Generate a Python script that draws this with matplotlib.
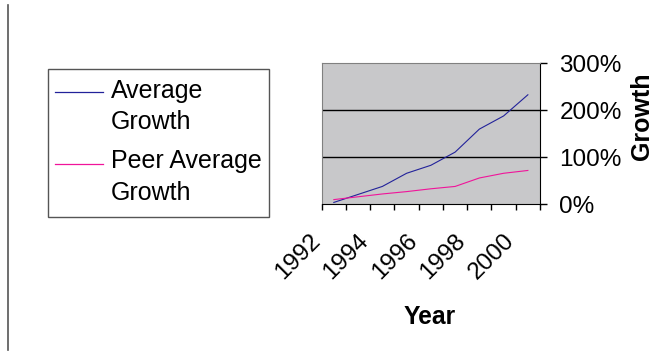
import numpy as np
import matplotlib.pyplot as plt
from matplotlib.lines import Line2D
from matplotlib.patches import Rectangle
from matplotlib.transforms import ScaledTranslation

plt.rcParams['font.family'] = ['Liberation Sans', 'DejaVu Sans']

# data (growth in %)
years = [1992, 1993, 1994, 1995, 1996, 1997, 1998, 1999, 2000]
label_years = [1992, 1994, 1996, 1998, 2000]
avg_growth = [4, 21, 38, 66, 83, 111, 160, 188, 233]
peer_growth = [10, 16, 22, 27, 33, 38, 56, 66, 72]
series_names = ["Average\nGrowth", "Peer Average\nGrowth"]
series_colors = ["#22229a", "#f0149a"]
y_ticks = [0, 100, 200, 300]

W, H = 659, 351
fig = plt.figure(figsize=(W / 100, H / 100), dpi=100)
ax = fig.add_axes([321.7 / W, 146.7 / H, 218.3 / W, 141 / H])
ax.set_facecolor("#c8c8ca")

x = np.arange(len(years))
for vals, name, col in zip([avg_growth, peer_growth], series_names, series_colors):
    ax.plot(x, vals, color=col, lw=0.8, label=name)

# y axis on the right, in percent
ax.set_ylim(y_ticks[0], y_ticks[-1])
ax.set_yticks(y_ticks)
ax.set_yticklabels([f"{v}%" for v in y_ticks])
ax.yaxis.tick_right()
ax.tick_params(axis="y", direction="out", length=5, width=1, pad=9, labelsize=17.5, colors="black")
for v in y_ticks[1:-1]:
    ax.axhline(v, color="black", lw=1, zorder=1)
ax.yaxis.set_label_position("right")
ax.set_ylabel("Growth", fontsize=18, fontweight="bold", va="center")
ax.yaxis.set_label_coords(1.467, 0.626)

# x axis: categories, tick marks between them, labels every other year
ax.set_xlim(-0.5, len(years) - 0.5)
ax.set_xticks(np.arange(-0.5, len(years), 1), minor=True)
ax.set_xticks([years.index(y) for y in label_years])
ax.set_xticklabels([str(y) for y in label_years], rotation=45, ha="right", va="center",
                   rotation_mode="anchor")
ax.tick_params(axis="x", which="major", length=0, pad=24, labelsize=17.5)
ax.tick_params(axis="x", which="minor", direction="out", length=4.3, width=1)
shift = ScaledTranslation(-0.17, 0, fig.dpi_scale_trans)
for lab in ax.get_xticklabels():
    lab.set_transform(lab.get_transform() + shift)
ax.set_xlabel("Year", fontsize=17.7, fontweight="bold", va="center")
ax.xaxis.set_label_coords(0.496, -0.80)

for side in ["top", "left"]:
    ax.spines[side].set_color("#808080")
for side in ["bottom", "right"]:
    ax.spines[side].set_color("black")

# legend box on the left
def px(xp, yp):
    return xp / W, 1 - yp / H

handles, labels = ax.get_legend_handles_labels()
fig.add_artist(Rectangle(px(47.7, 216.7), 221.6 / W, 147.4 / H, transform=fig.transFigure,
                         fill=False, ec="#555555", lw=1))
line_y = [91.7, 164]
text_y = [98, 168]
for h, lab, ly, ty in zip(handles, labels, line_y, text_y):
    x0, y0 = px(55, ly)
    x1, _ = px(103, ly)
    fig.add_artist(Line2D([x0, x1], [y0, y0], transform=fig.transFigure,
                          color=h.get_color(), lw=0.9))
    for i, part in enumerate(lab.split("\n")):
        tx, tyf = px(111, ty + 31.5 * i)
        fig.text(tx, tyf, part, fontsize=18, va="baseline", ha="left")

# vertical rule at the far left
fig.add_artist(Line2D([7.7 / W] * 2, [1 - 5 / H, 1 - 350 / H], transform=fig.transFigure,
                      color="#555555", lw=1.2))

fig.savefig("out.png", dpi=100)
